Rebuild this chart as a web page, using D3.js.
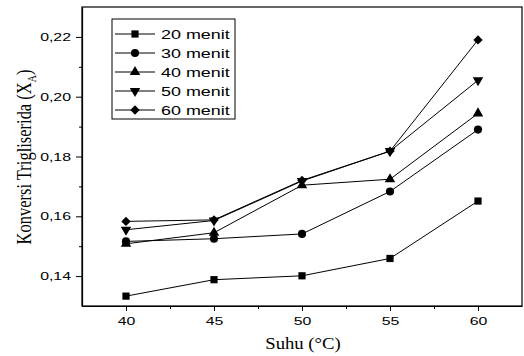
<!DOCTYPE html>
<html>
<head>
<meta charset="utf-8">
<script src="https://cdn.jsdelivr.net/npm/d3@7"></script>
<style>
  body { margin: 0; background: #fff; }
  svg { display: block; }
</style>
</head>
<body>
<svg id="chart" width="524" height="356"></svg>
<script>
// temperatures (x) and conversions per reaction time
const suhu = [40, 45, 50, 55, 60];
const menit20 = [0.1333, 0.1388, 0.1401, 0.1459, 0.1651];
const menit30 = [0.1516, 0.1525, 0.1541, 0.1683, 0.1890];
const menit40 = [0.1508, 0.1545, 0.1704, 0.1724, 0.1944];
const menit50 = [0.1555, 0.1586, 0.1718, 0.1818, 0.2055];
const menit60 = [0.1583, 0.1588, 0.1720, 0.1818, 0.2190];
const seriesNames = ['20 menit', '30 menit', '40 menit', '50 menit', '60 menit'];
const xTicks = [40, 45, 50, 55, 60];
const yTicks = [0.14, 0.16, 0.18, 0.20, 0.22];

const stretch = 1.38; // the original picture is wider than its type

const series = [menit20, menit30, menit40, menit50, menit60].map((vals, i) => ({
    name: seriesNames[i],
    values: vals.map((v, j) => ({ x: suhu[j], y: v }))
}));

const svg = d3.select('#chart');
const plotL = 82, plotR = 522, plotT = 7, plotB = 306;

const x = d3.scaleLinear().domain([37.5, 62.5]).range([plotL, plotR]);
const y = d3.scaleLinear().domain([0.13, 0.23]).range([plotB, plotT]);

// marker shapes
const shapes = [
    { type: d3.symbolSquare, size: 52, rot: 0 },
    { type: d3.symbolCircle, size: 52, rot: 0 },
    { type: d3.symbolTriangle, size: 48, rot: 0 },
    { type: d3.symbolTriangle, size: 48, rot: 180 },
    { type: d3.symbolSquare, size: 44, rot: 45 }
];
function marker(g, i) {
    const s = shapes[i];
    g.append('path')
        .attr('d', d3.symbol().type(s.type).size(s.size)())
        .attr('transform', `rotate(${s.rot})`)
        .attr('fill', '#000');
}

// frame
svg.append('rect')
    .attr('x', plotL).attr('y', plotT)
    .attr('width', plotR - plotL).attr('height', plotB - plotT)
    .attr('fill', 'none').attr('stroke', '#000').attr('stroke-width', 1.2);

// x axis
const xAxis = svg.append('g')
    .attr('transform', `translate(0,${plotB})`)
    .call(d3.axisBottom(x).tickValues(xTicks).tickSize(5).tickPadding(0).tickSizeOuter(0));
xAxis.select('.domain').attr('stroke-width', 1.2);
xAxis.selectAll('.tick text')
    .attr('font-family', 'Liberation Sans, Arial, sans-serif')
    .attr('font-size', 11.5)
    .attr('fill', '#000')
    .attr('y', 0)
    .attr('dy', null)
    .attr('transform', `translate(0,19) scale(${stretch},1)`)
    .text(d => d);
svg.append('g')
    .attr('transform', `translate(0,${plotB})`)
    .call(d3.axisBottom(x).tickValues([42.5, 47.5, 52.5, 57.5]).tickSize(3).tickFormat('').tickSizeOuter(0))
    .select('.domain').remove();

// y axis
const yAxis = svg.append('g')
    .attr('transform', `translate(${plotL},0)`)
    .call(d3.axisLeft(y).tickValues(yTicks).tickSize(6).tickSizeOuter(0));
yAxis.select('.domain').attr('stroke-width', 1.2);
yAxis.selectAll('.tick text')
    .attr('font-family', 'Liberation Sans, Arial, sans-serif')
    .attr('font-size', 11.5)
    .attr('fill', '#000')
    .attr('x', 0)
    .attr('transform', `translate(-11,0) scale(${stretch},1)`)
    .text(d => d3.format('.2f')(d).replace('.', ','));
svg.append('g')
    .attr('transform', `translate(${plotL},0)`)
    .call(d3.axisLeft(y).tickValues([0.15, 0.17, 0.19, 0.21]).tickSize(3).tickFormat('').tickSizeOuter(0))
    .select('.domain').remove();

// axis titles
svg.append('text')
    .attr('transform', `translate(303,349) scale(1.1,1)`)
    .attr('text-anchor', 'middle')
    .attr('font-family', 'Liberation Serif, Times New Roman, serif')
    .attr('font-size', 17)
    .text('Suhu (°C)');

const yTitle = svg.append('text')
    .attr('transform', `translate(31,157) scale(1.3,1) rotate(-90)`)
    .attr('text-anchor', 'middle')
    .attr('font-family', 'Liberation Serif, Times New Roman, serif')
    .attr('font-size', 16.5);
yTitle.append('tspan').text('Konversi Trigliserida (X');
yTitle.append('tspan').attr('font-size', 10).attr('dy', 4).text('A');
yTitle.append('tspan').attr('dy', -4).text(')');

// lines and markers
const line = d3.line().x(d => x(d.x)).y(d => y(d.y));
series.forEach((s, i) => {
    svg.append('path')
        .datum(s.values)
        .attr('d', line)
        .attr('fill', 'none')
        .attr('stroke', '#000')
        .attr('stroke-width', 1);
    svg.append('g').selectAll('g')
        .data(s.values)
        .join('g')
        .attr('transform', d => `translate(${x(d.x)},${y(d.y)})`)
        .each(function () { marker(d3.select(this), i); });
});

// legend
const legend = svg.append('g');
legend.append('rect')
    .attr('x', 112).attr('y', 19)
    .attr('width', 123).attr('height', 100)
    .attr('fill', '#fff').attr('stroke', '#000').attr('stroke-width', 1);
series.forEach((s, i) => {
    const ly = 34 + i * 19;
    legend.append('line')
        .attr('x1', 115).attr('x2', 155)
        .attr('y1', ly).attr('y2', ly)
        .attr('stroke', '#000').attr('stroke-width', 1);
    marker(legend.append('g').attr('transform', `translate(135,${ly})`), i);
    legend.append('text')
        .attr('transform', `translate(161,${ly + 4.5}) scale(${stretch},1)`)
        .attr('font-family', 'Liberation Sans, Arial, sans-serif')
        .attr('font-size', 13)
        .text(s.name);
});
</script>
</body>
</html>
